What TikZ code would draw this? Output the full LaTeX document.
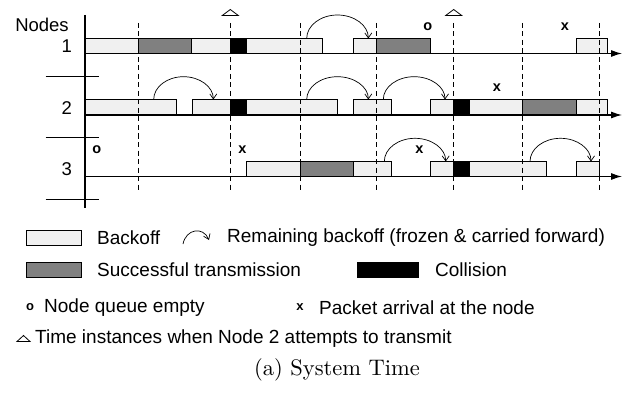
\documentclass[tikz,border=0pt]{standalone}
\usepackage{fontspec}
\setmainfont{Liberation Sans}
\newfontfamily\capfont{lmroman10-regular.otf}
\usetikzlibrary{arrows.meta}
\definecolor{lightbox}{gray}{0.94}
\definecolor{darkbox}{gray}{0.5}
\tikzset{
  bk/.style={draw=black, line width=0.7pt, fill=lightbox},
  tx/.style={draw=black, line width=0.7pt, fill=darkbox},
  col/.style={draw=black, line width=0.7pt, fill=black},
  axisline/.style={line width=1.1pt, -{Latex[length=11pt,width=7pt]}},
  plainline/.style={line width=1.1pt},
  slot/.style={dash pattern=on 5pt off 3.5pt, line width=0.8pt},
  rem/.style={line width=0.7pt, -{Straight Barb[length=5pt,width=7pt]}},
  lbl/.style={font=\fontsize{18.5}{22}\selectfont, inner sep=0pt},
  mk/.style={font=\fontsize{14.5}{17}\selectfont\bfseries, inner sep=0pt},
  lmk/.style={font=\fontsize{13}{15}\selectfont\bfseries, inner sep=0pt},
  leg/.style={font=\fontsize{19}{22}\selectfont, inner sep=0pt, anchor=west},
  attempt/.style={draw=black, line width=0.8pt, fill=white},
}
\newcommand\remarc[4]{%
  \pgfmathsetmacro\rmid{(#1+#2)/2}%
  \pgfmathsetmacro\rq{0.276*(#2-#1)}%
  \pgfmathsetmacro\rtop{#3-#4}%
  \pgfmathsetmacro\rv{#3-0.552*#4}%
  \draw[rem] (#1,#3) .. controls (#1,\rv) and ({\rmid-\rq},\rtop) .. (\rmid,\rtop)
    .. controls ({\rmid+\rq},\rtop) and (#2,\rv) .. (#2,#3);}
\begin{document}
\begin{tikzpicture}[x=1pt,y=-1pt]
\useasboundingbox (0,0) rectangle (626,393);
% ---------- Node 1 (y 38.5 .. 53.5)
\draw[bk] (85,38.5) rectangle (138.3,53.5);
\draw[tx] (138.3,38.5) rectangle (191.7,53.5);
\draw[bk] (191.7,38.5) rectangle (230.3,53.5);
\draw[col] (230.3,38.5) rectangle (246.3,53.5);
\draw[bk] (246.3,38.5) rectangle (322.7,53.5);
\draw[bk] (353.3,38.5) rectangle (376.7,53.5);
\draw[tx] (376.7,38.5) rectangle (430.3,53.5);
\draw[bk] (576.7,38.5) rectangle (607,53.5);
% ---------- Node 2 (y 99.5 .. 115)
\draw[bk] (85,99.5) rectangle (176.3,115);
\draw[bk] (192,99.5) rectangle (230.3,115);
\draw[col] (230.3,99.5) rectangle (246.3,115);
\draw[bk] (246.3,99.5) rectangle (337.7,115);
\draw[bk] (353.3,99.5) rectangle (391.7,115);
\draw[bk] (430.3,99.5) rectangle (453.7,115);
\draw[col] (453.7,99.5) rectangle (469,115);
\draw[bk] (469,99.5) rectangle (522.7,115);
\draw[tx] (522.7,99.5) rectangle (576.7,115);
\draw[bk] (576.7,99.5) rectangle (607,115);
% ---------- Node 3 (y 161.5 .. 176.5)
\draw[bk] (246.3,161.5) rectangle (300,176.5);
\draw[tx] (300,161.5) rectangle (353.3,176.5);
\draw[bk] (353.3,161.5) rectangle (391.7,176.5);
\draw[bk] (430.3,161.5) rectangle (453.7,176.5);
\draw[col] (453.7,161.5) rectangle (469,176.5);
\draw[bk] (469,161.5) rectangle (546,176.5);
\draw[bk] (576.7,161.5) rectangle (599.3,176.5);
% ---------- axes
\coordinate (v0) at (85,15);
\coordinate (v1) at (85,208);
\draw[plainline] (v0) -- (v1);
\coordinate (a1s) at (85,53.5);  \coordinate (a1e) at (622,53.5);
\coordinate (a2s) at (85,115);   \coordinate (a2e) at (622,115);
\coordinate (a3s) at (85,176.5); \coordinate (a3e) at (622,176.5);
\draw[axisline] (a1s) -- (a1e);
\draw[axisline] (a2s) -- (a2e);
\draw[axisline] (a3s) -- (a3e);
\draw[line width=0.9pt] (45.7,76.7) -- (99.3,76.7);
\draw[line width=0.9pt] (45.7,137.7) -- (99.3,137.7);
\draw[line width=0.9pt] (45.7,199.3) -- (99.3,199.3);
% ---------- slot boundaries
\foreach \sx in {138.3,230.3,300,376.7,453.7,522.7,599.3}
  \draw[slot] (\sx,23) -- (\sx,192);
% ---------- attempts of node 2
\draw[attempt] (222.3,15.5) -- (238.3,15.5) -- (230.3,9.5) -- cycle;
\draw[attempt] (445.7,15.5) -- (461.7,15.5) -- (453.7,9.5) -- cycle;
% ---------- remaining backoff arcs
\remarc{306.7}{368.3}{38.5}{23.5}
\remarc{153.7}{213.3}{99.5}{22.8}
\remarc{306.7}{368.3}{99.5}{22.8}
\remarc{383.3}{445}{99.5}{22.8}
\remarc{384.3}{445.7}{161.5}{23.2}
\remarc{530}{591}{161.5}{23.2}
% ---------- labels
\node[lbl] (nodes) at (42,24.5) {Nodes};
\node[lbl] (n1) at (66.7,46.5) {1};
\node[lbl] (n2) at (66.7,108) {2};
\node[lbl] (n3) at (66.7,169.5) {3};
\node[mk] (o1) at (427.7,26.7) {o};
\node[mk] (x1) at (565,26.7) {x};
\node[mk] (x2) at (497,88) {x};
\node[mk] (o3) at (96.7,149.5) {o};
\node[mk] (x3a) at (242.5,149.5) {x};
\node[mk] (x3b) at (419.5,150) {x};
% ---------- legend
\draw[bk] (26,230) rectangle (81,245);
\node[leg] (lbk) at (97,238) {Backoff};
\draw[rem] (183,244) .. controls (186,229) and (203,226) .. (209,240);
\node[leg] (lrem) at (227,238) {Remaining backoff (frozen \& carried forward)};
\draw[tx] (26,262) rectangle (81,277);
\node[leg] (ltx) at (97,270) {Successful transmission};
\draw[col] (357,262) rectangle (418,277);
\node[leg] (lcol) at (435,270) {Collision};
\node[lmk] (lo) at (30,307) {o};
\node[leg] (lempty) at (44,308) {Node queue empty};
\node[lmk] (lx) at (300,307) {x};
\node[leg] (larr) at (319,308) {Packet arrival at the node};
\draw[attempt] (17,341.5) -- (30,341.5) -- (23.5,335.5) -- cycle;
\node[leg] (latt) at (35,339) {Time instances when Node 2 attempts to transmit};
\node[font=\capfont\fontsize{22.5}{27}\selectfont, inner sep=0pt] (cap) at (337,370) {(a) System Time};
\end{tikzpicture}
\end{document}
